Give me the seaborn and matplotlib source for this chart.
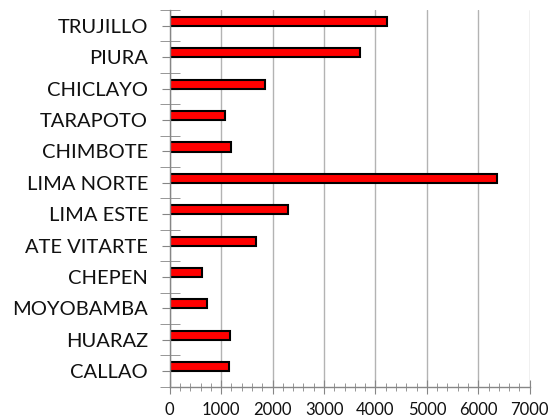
import matplotlib
matplotlib.use('Agg')
import matplotlib.pyplot as plt
import seaborn as sns
from matplotlib.ticker import FixedLocator, MultipleLocator

# Data
cities = ['TRUJILLO', 'PIURA', 'CHICLAYO', 'TARAPOTO', 'CHIMBOTE', 'LIMA NORTE',
          'LIMA ESTE', 'ATE VITARTE', 'CHEPEN', 'MOYOBAMBA', 'HUARAZ', 'CALLAO']
values = [4230, 3690, 1850, 1080, 1190, 6370, 2300, 1670, 620, 730, 1170, 1150]

sns.set_style('white')
plt.rcParams['font.family'] = ['Lato', 'DejaVu Sans']

fig = plt.figure(figsize=(5.53, 4.20), dpi=100)
ax = fig.add_axes([0.307, 0.079, 0.651, 0.897])

sns.barplot(x=values, y=cities, orient='h', width=0.29, color='#ff0000',
            edgecolor='black', linewidth=1.5, saturation=1, ax=ax)
# bars sit a little above the category centre in the original
for p in ax.patches:
    p.set_y(p.get_y() - 0.14)

ax.set_xlim(0, 7000)
ax.set_ylim(len(cities) - 0.5, -0.5)
ax.xaxis.set_major_locator(MultipleLocator(1000))
ax.xaxis.set_minor_locator(MultipleLocator(200))
ax.yaxis.set_minor_locator(FixedLocator([i - 0.5 for i in range(len(cities) + 1)]))

ax.grid(axis='x', color='#b3b3b3', linewidth=1)
ax.set_axisbelow(True)
sns.despine(ax=ax, top=True, right=True)
for s in ['left', 'bottom']:
    ax.spines[s].set_color('#868686')
    ax.spines[s].set_linewidth(1)

ax.tick_params(axis='y', which='major', direction='inout', length=11, color='#868686',
               labelsize=14.5, pad=10, left=True, labelcolor='#111111')
ax.tick_params(axis='y', which='minor', direction='inout', length=15, color='#868686', left=True)
ax.tick_params(axis='x', which='major', direction='inout', length=10, color='#868686',
               labelsize=12, pad=6, bottom=True, labelcolor='#111111')
ax.tick_params(axis='x', which='minor', direction='inout', length=6, color='#868686', bottom=True)
ax.set_xlabel('')
ax.set_ylabel('')

fig.savefig('out.png', dpi=100)
